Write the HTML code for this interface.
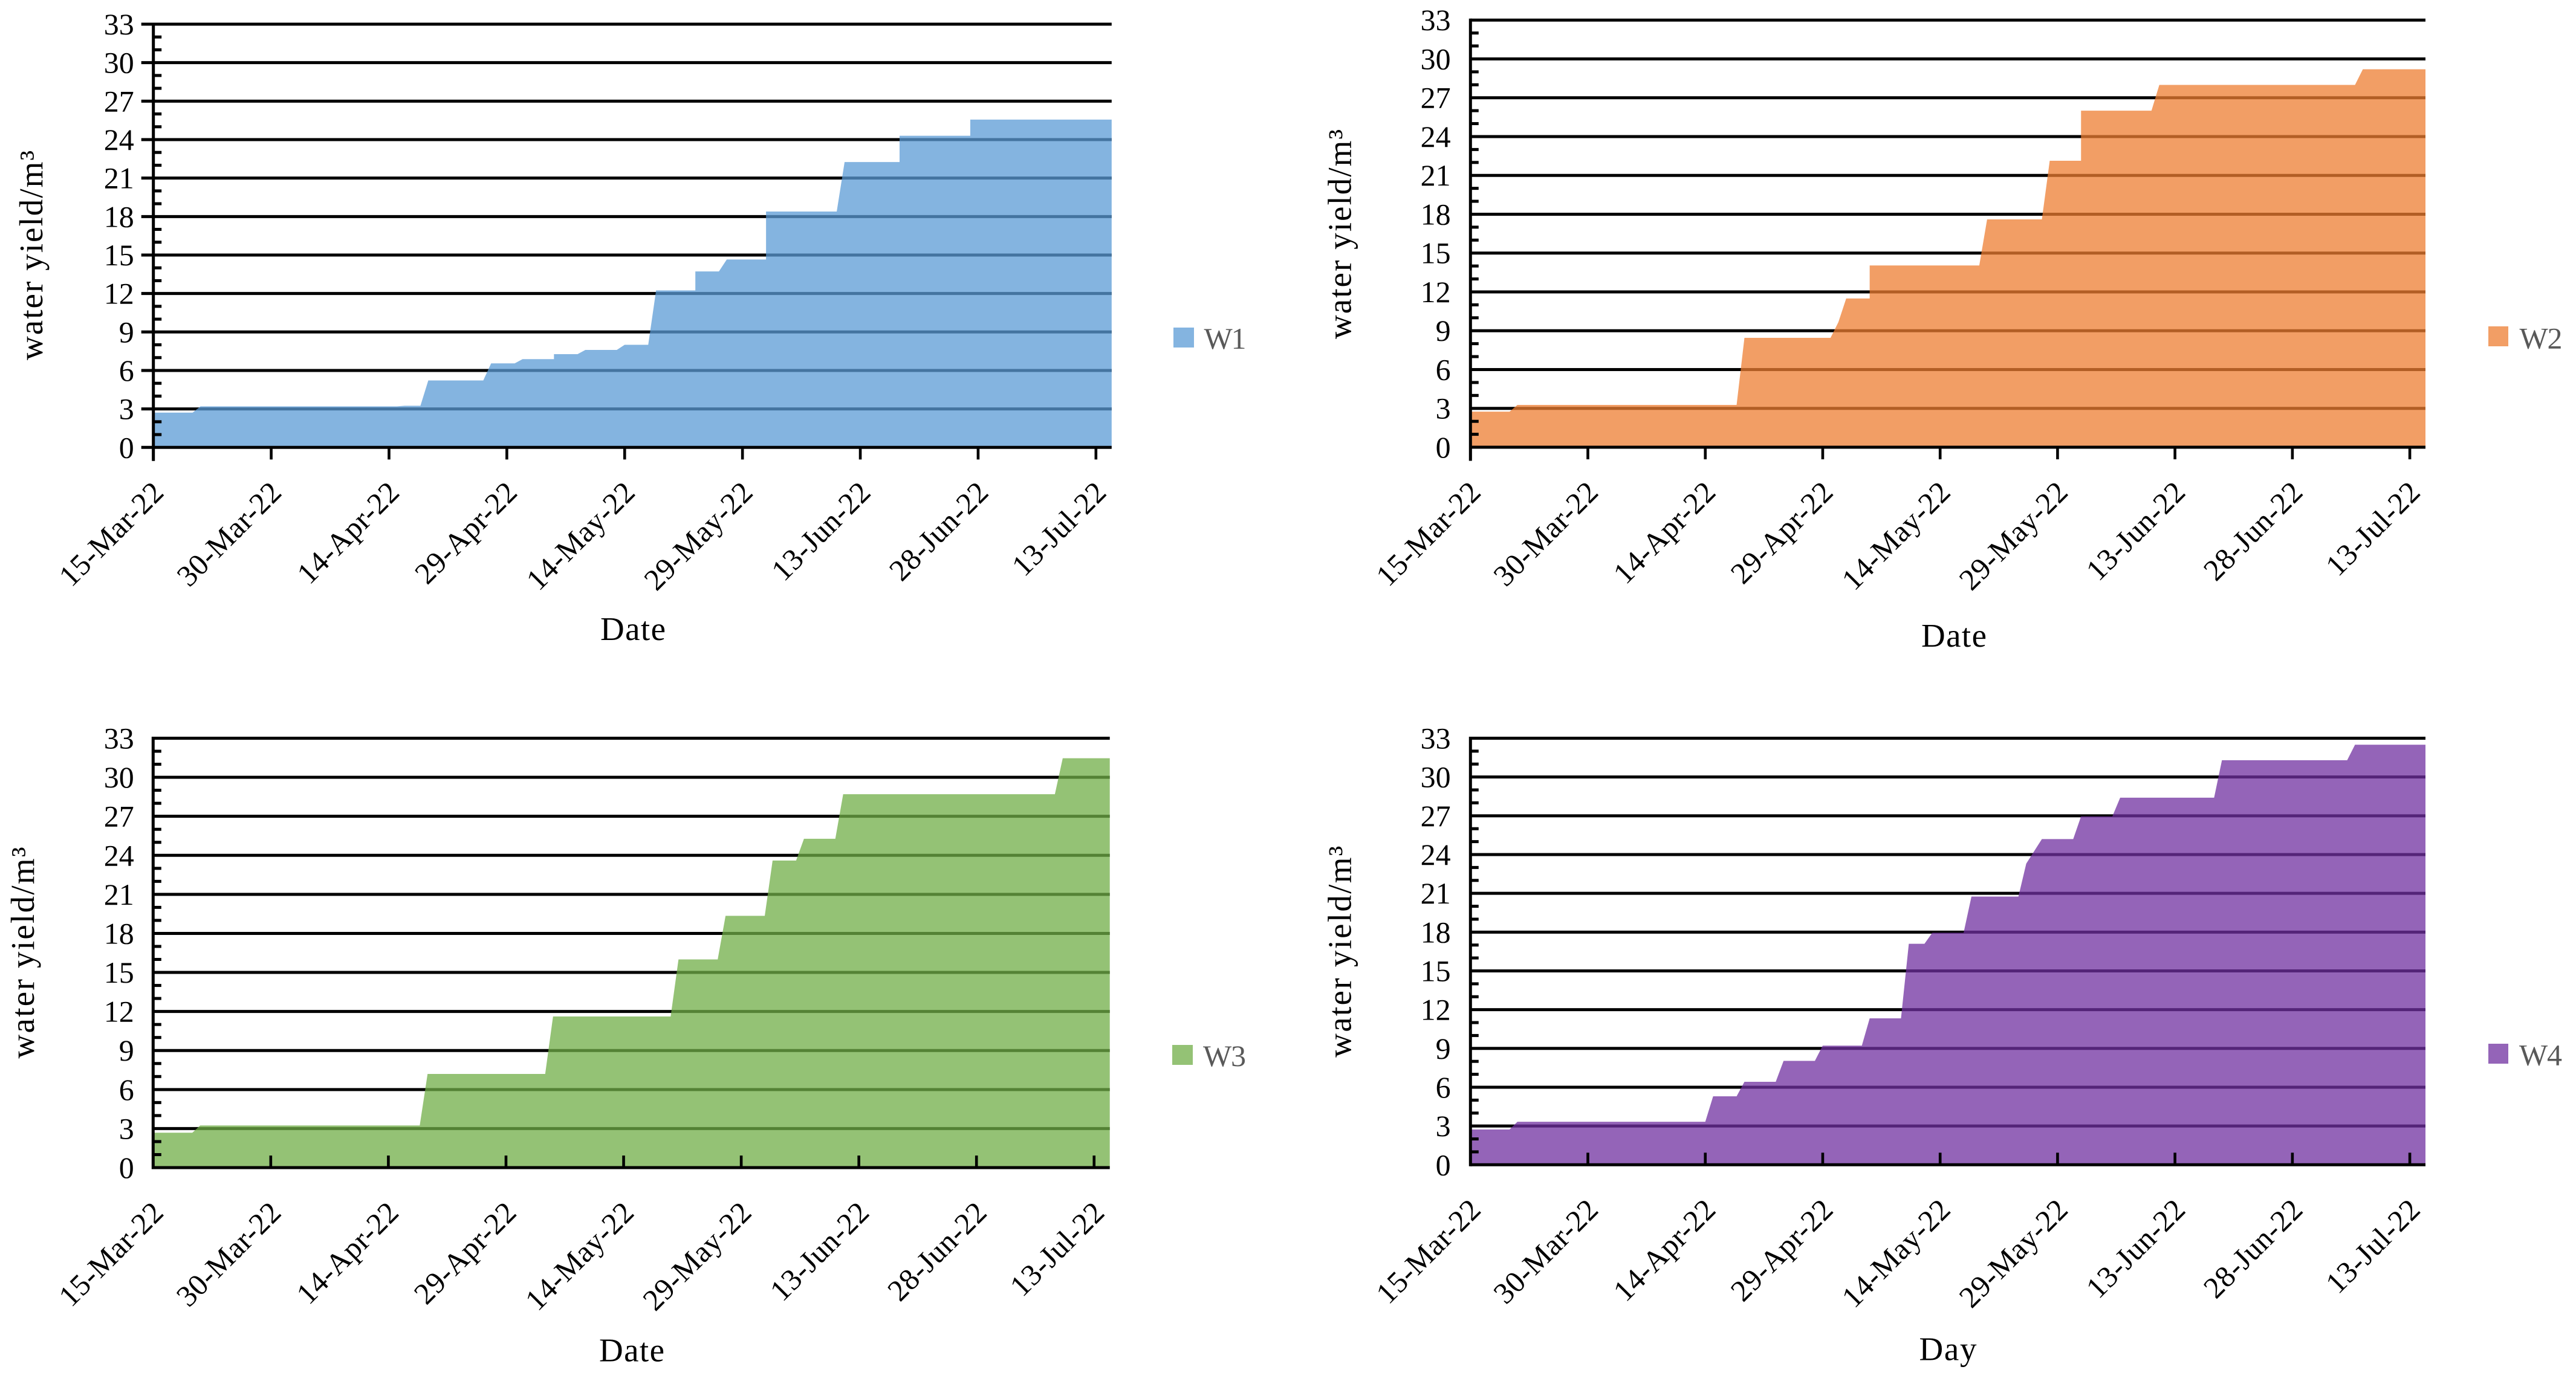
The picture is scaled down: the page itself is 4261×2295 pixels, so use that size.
<!DOCTYPE html>
<html lang="en">
<head>
<meta charset="utf-8">
<title>Cumulative water yield W1–W4</title>
<style>
  html,body{margin:0;padding:0;background:#fff;}
  svg{display:block;font-family:"Liberation Serif",serif;}
  .tick{font-size:50px;fill:#000;}
  .date{letter-spacing:0.5px;}
  .title{font-size:55px;fill:#000;}
  .legend{font-size:50px;fill:#595959;}
</style>
</head>
<body>
<svg id="figure" xmlns="http://www.w3.org/2000/svg" width="4261" height="2295" viewBox="0 0 4261 2295">
  <rect x="0" y="0" width="4261" height="2295" fill="#fff"/>

  <g id="panel-w1"></g>
  <g id="panel-w2"></g>
  <g id="panel-w3"></g>
  <g id="panel-w4"></g>

  <text class="title" transform="translate(70,422.5) rotate(-90)" text-anchor="middle" textLength="347">water yield/m³</text>
  <text class="title" transform="translate(2234.7,387.5) rotate(-90)" text-anchor="middle" textLength="347">water yield/m³</text>
  <text class="title" transform="translate(56,1576.5) rotate(-90)" text-anchor="middle" textLength="350">water yield/m³</text>
  <text class="title" transform="translate(2234.7,1574.7) rotate(-90)" text-anchor="middle" textLength="350">water yield/m³</text>

  <text class="title" x="1047" y="1059" text-anchor="middle" textLength="108">Date</text>
  <text class="title" x="3232" y="1070" text-anchor="middle" textLength="108">Date</text>
  <text class="title" x="1045" y="2252.7" text-anchor="middle" textLength="108">Date</text>
  <text class="title" x="3222" y="2250.6" text-anchor="middle" textLength="95">Day</text>

  <g>
    <rect x="1941" y="542" width="34" height="33" fill="#5B9BD5" fill-opacity="0.75"/>
    <text class="legend" x="1991.5" y="577" textLength="70">W1</text>
  </g>
  <g>
    <rect x="4116" y="540" width="33" height="33" fill="#ED7D31" fill-opacity="0.75"/>
    <text class="legend" x="4167.5" y="576.6" textLength="71">W2</text>
  </g>
  <g>
    <rect x="1939" y="1729" width="34" height="33" fill="#70AD47" fill-opacity="0.75"/>
    <text class="legend" x="1990" y="1764" textLength="71">W3</text>
  </g>
  <g>
    <rect x="4116" y="1727" width="33" height="33" fill="#7030A0" fill-opacity="0.75"/>
    <text class="legend" x="4167" y="1762.5" textLength="71">W4</text>
  </g>
</svg>

<script>
// ---- chart data (days since 15-Mar-22, yield in m3) ----
const dateTickDays = [0, 15, 30, 45, 60, 75, 90, 105, 120];
const dateTickLabels = ["15-Mar-22", "30-Mar-22", "14-Apr-22", "29-Apr-22", "14-May-22", "29-May-22", "13-Jun-22", "28-Jun-22", "13-Jul-22"];
const yTickValues = [0, 3, 6, 9, 12, 15, 18, 21, 24, 27, 30, 33];
const yMinorValues = [1, 2, 4, 5, 7, 8, 10, 11, 13, 14, 16, 17, 19, 20, 22, 23, 25, 26, 28, 29, 31, 32];
const dayMax = 122;
const yieldMax = 33;

const w1Days  = [0, 5, 6, 31, 32, 34, 35, 42, 43, 46, 47, 51, 51, 54, 55, 59, 60, 63, 64, 69, 69, 72, 73, 78, 78, 87, 88, 95, 95, 104, 104, 122];
const w1Yield = [2.71, 2.71, 3.2, 3.2, 3.25, 3.25, 5.22, 5.22, 6.55, 6.55, 6.88, 6.88, 7.27, 7.27, 7.6, 7.6, 8.0, 8.0, 12.24, 12.24, 13.72, 13.72, 14.65, 14.65, 18.39, 18.39, 22.25, 22.25, 24.3, 24.3, 25.56, 25.56];

const w2Days  = [0, 5, 6, 34, 35, 46, 47, 48, 51, 51, 65, 66, 73, 74, 78, 78, 87, 88, 113, 114, 122];
const w2Yield = [2.75, 2.75, 3.27, 3.27, 8.45, 8.45, 9.66, 11.49, 11.49, 14.04, 14.04, 17.6, 17.6, 22.13, 22.13, 26.0, 26.0, 27.99, 27.99, 29.2, 29.2];

const w3Days  = [0, 5, 6, 34, 35, 50, 51, 66, 67, 72, 73, 78, 79, 82, 83, 87, 88, 115, 116, 122];
const w3Yield = [2.68, 2.68, 3.24, 3.24, 7.2, 7.2, 11.62, 11.62, 16.0, 16.0, 19.35, 19.35, 23.6, 23.6, 25.27, 25.27, 28.7, 28.7, 31.46, 31.46];

const w4Days  = [0, 5, 6, 30, 31, 34, 35, 39, 40, 44, 45, 50, 51, 55, 56, 58, 59, 63, 64, 70, 71, 73, 77, 78, 82, 83, 95, 96, 112, 113, 122];
const w4Yield = [2.73, 2.73, 3.33, 3.33, 5.3, 5.3, 6.42, 6.42, 8.04, 8.04, 9.22, 9.22, 11.33, 11.33, 17.1, 17.1, 17.95, 17.95, 20.75, 20.75, 23.3, 25.2, 25.2, 26.95, 26.95, 28.4, 28.4, 31.3, 31.3, 32.5, 32.5];

const SVG_NS = "http://www.w3.org/2000/svg";

function drawPanel(panelId, days, yields, frame) {
  const root = document.getElementById(panelId);
  const xScale = function (d) { return frame.left + (d / dayMax) * (frame.right - frame.left); };
  const yScale = function (v) { return frame.bottom - (v / yieldMax) * (frame.bottom - frame.top); };

  function line(x1, y1, x2, y2, width) {
    const l = document.createElementNS(SVG_NS, "line");
    l.setAttribute("x1", x1);
    l.setAttribute("y1", y1);
    l.setAttribute("x2", x2);
    l.setAttribute("y2", y2);
    l.setAttribute("stroke", "#000");
    l.setAttribute("stroke-width", width);
    root.appendChild(l);
    return l;
  }

  // gridlines sit beneath the translucent area
  yTickValues.forEach(function (v) {
    if (v === 0) return;
    const gridStart = frame.outerYTicks ? frame.left - 20 : frame.left;
    const g = line(gridStart, yScale(v), frame.right, yScale(v), 5);
    
    
  });

  // area series
  const pts = [];
  pts.push(xScale(days[0]) + "," + yScale(0));
  days.forEach(function (d, i) {
    pts.push(xScale(d) + "," + yScale(yields[i]));
  });
  pts.push(xScale(days[days.length - 1]) + "," + yScale(0));
  const area = document.createElementNS(SVG_NS, "polygon");
  area.setAttribute("points", pts.join(" "));
  area.setAttribute("fill", frame.color);
  area.setAttribute("fill-opacity", "0.75");
  
  
  root.appendChild(area);

  // axes
  const xAxisExtend = frame.outerXTicks ? 20 : 0;
  const yAxisLine = line(frame.left, frame.top - 2.5, frame.left, frame.bottom + 2.5 + xAxisExtend, 5);
  
  
  const xAxisStart = frame.outerYTicks ? frame.left - 20 : frame.left;
  const xAxisLine = line(xAxisStart, frame.bottom, frame.right, frame.bottom, 5);
  
  

  // y minor ticks (inside)
  yMinorValues.forEach(function (v) {
    const m = line(frame.left, yScale(v), frame.left + 13.5, yScale(v), 5);
    
    
  });

  // y tick labels
  yTickValues.forEach(function (v) {
    const t = document.createElementNS(SVG_NS, "text");
    t.setAttribute("class", "tick");
    t.setAttribute("x", frame.labelRight);
    t.setAttribute("y", yScale(v) + 17);
    t.setAttribute("text-anchor", "end");
    t.textContent = String(v);
    
    
    root.appendChild(t);
  });

  // x ticks and rotated date labels
  dateTickDays.forEach(function (d, i) {
    const x = xScale(d);
    const tickEnd = frame.outerXTicks ? frame.bottom + 20 : frame.bottom - 20;
    const k = line(x, frame.bottom, x, tickEnd, 4.6);
    
    

    const t = document.createElementNS(SVG_NS, "text");
    t.setAttribute("class", "tick date");
    t.setAttribute("text-anchor", "end");
    t.setAttribute("transform", "translate(" + (x + 20) + "," + (frame.bottom + 77) + ") rotate(-45)");
    t.textContent = dateTickLabels[i];
    
    
    root.appendChild(t);
  });
}

drawPanel("panel-w1", w1Days, w1Yield, {left: 253.7, right: 1838.8, top: 40, bottom: 740.3, labelRight: 221.7, color: "#5B9BD5", outerXTicks: true, outerYTicks: true});
drawPanel("panel-w2", w2Days, w2Yield, {left: 2432.3, right: 4012, top: 33.2, bottom: 740, labelRight: 2399.6, color: "#ED7D31", outerXTicks: true, outerYTicks: false});
drawPanel("panel-w3", w3Days, w3Yield, {left: 253.3, right: 1835.7, top: 1221.5, bottom: 1932, labelRight: 221.7, color: "#70AD47", outerXTicks: false, outerYTicks: false});
drawPanel("panel-w4", w4Days, w4Yield, {left: 2432.3, right: 4012, top: 1221.5, bottom: 1927.3, labelRight: 2399.6, color: "#7030A0", outerXTicks: false, outerYTicks: false});
</script>
</body>
</html>
